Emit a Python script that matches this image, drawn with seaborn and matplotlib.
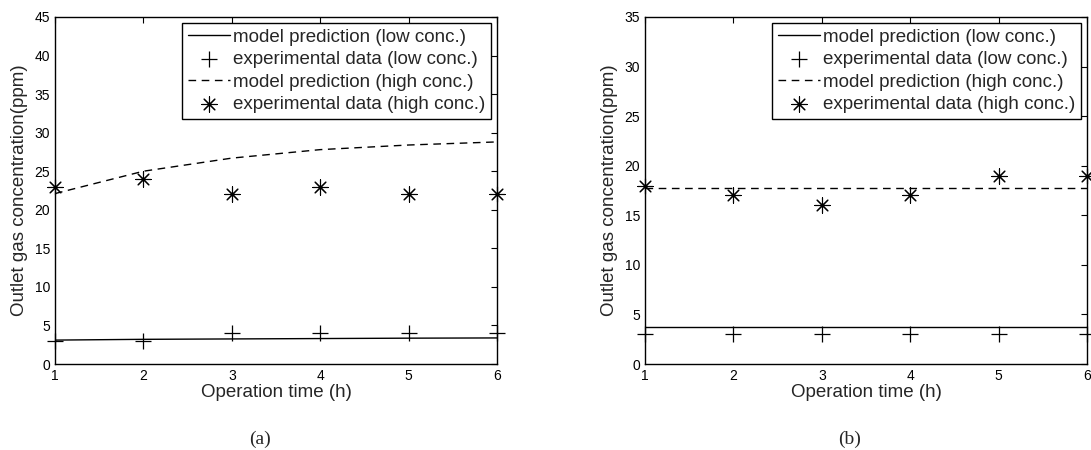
import numpy as np
import seaborn as sns
from matplotlib import pyplot as plt

# operation time (h)
hours = [1, 2, 3, 4, 5, 6]

# panel (a)
a_model_low = [3.1, 3.2, 3.25, 3.3, 3.35, 3.38]
a_exp_low = [3, 3, 4, 4, 4, 4]
a_model_high = [22.1, 25.0, 26.7, 27.8, 28.4, 28.8]
a_exp_high = [23, 24, 22, 23, 22, 22]

# panel (b)
b_model_low = [3.7, 3.7, 3.7, 3.7, 3.7, 3.7]
b_exp_low = [3, 3, 3, 3, 3, 3]
b_model_high = [17.8, 17.8, 17.8, 17.8, 17.8, 17.8]
b_exp_high = [18, 17, 16, 17, 19, 19]

labels = ["model prediction (low conc.)", "experimental data (low conc.)",
          "model prediction (high conc.)", "experimental data (high conc.)"]

STAR = (8, 2, 0)


def draw_panel(ax, model_low, exp_low, model_high, exp_high, ymax):
    sns.lineplot(x=hours, y=model_low, ax=ax, color="black", lw=1.0, label=labels[0])
    sns.scatterplot(x=hours, y=exp_low, ax=ax, marker="+", s=130, color="black",
                    linewidth=0.9, clip_on=False, label=labels[1], zorder=3)
    sns.lineplot(x=hours, y=model_high, ax=ax, color="black", lw=1.0,
                 linestyle=(0, (5.5, 4)), label=labels[2])
    sns.scatterplot(x=hours, y=exp_high, ax=ax, marker=STAR, s=120, color="black",
                    linewidth=0.8, clip_on=False, label=labels[3], zorder=3)

    ax.set_xlim(1, 6)
    ax.set_ylim(0, ymax)
    ax.set_xticks(hours)
    ax.set_yticks(np.arange(0, ymax + 1, 5))
    ax.tick_params(direction="in", length=4, width=0.8, top=True, right=True,
                   labelsize=10, pad=3.5, colors="black")
    ax.set_xlabel("Operation time (h)", fontsize=13.5, labelpad=1)
    ax.set_ylabel("Outlet gas concentration(ppm)", fontsize=13.5, labelpad=5)
    for sp in ax.spines.values():
        sp.set_color("black")
        sp.set_linewidth(1.0)
        sp.set_visible(True)
    ax.grid(False)

    leg = ax.legend(loc="upper right", bbox_to_anchor=(0.986, 0.983), fontsize=13.5,
                    frameon=True, fancybox=False, framealpha=1, edgecolor="black",
                    handlelength=2.2, handletextpad=0.15, borderpad=0.32,
                    labelspacing=0.28, borderaxespad=0, scatterpoints=1)
    leg.get_frame().set_linewidth(1.0)


def main():
    sns.set_theme(style="white")
    plt.rcParams["font.family"] = ["Liberation Sans", "DejaVu Sans"]

    fig = plt.figure(figsize=(10.91, 4.5), dpi=100)
    ax_a = fig.add_axes([55 / 1091, 86 / 450, 442 / 1091, 347 / 450])
    ax_b = fig.add_axes([645 / 1091, 86 / 450, 442 / 1091, 347 / 450])

    draw_panel(ax_a, a_model_low, a_exp_low, a_model_high, a_exp_high, 45)
    draw_panel(ax_b, b_model_low, b_exp_low, b_model_high, b_exp_high, 35)

    fig.text(260 / 1091, 1 - 439 / 450, "(a)", family="Liberation Serif",
             fontsize=14, ha="center", va="center")
    fig.text(850 / 1091, 1 - 439 / 450, "(b)", family="Liberation Serif",
             fontsize=14, ha="center", va="center")

    fig.savefig("out.png", dpi=100)


if __name__ == "__main__":
    main()
